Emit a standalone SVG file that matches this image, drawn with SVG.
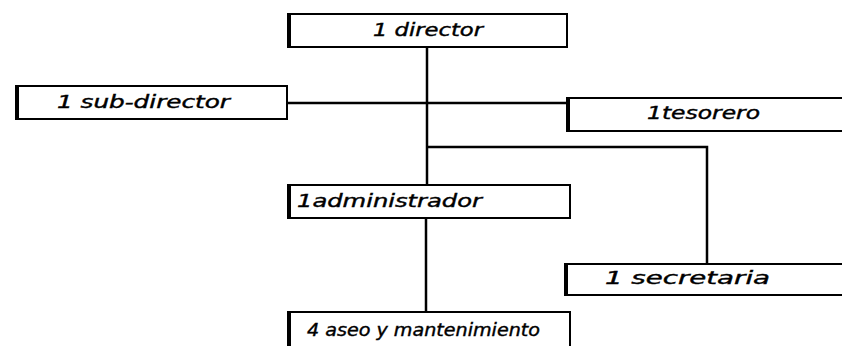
<svg xmlns="http://www.w3.org/2000/svg" width="842" height="346" viewBox="0 0 842 346">
  <style>
    .box { fill: #fff; stroke: #000; stroke-width: 2; }
    .edge { stroke: #000; stroke-width: 4; }
    .lbl { font-family: "DejaVu Sans", "Liberation Sans", sans-serif; font-size: 17px; font-style: italic; fill: #000; stroke: #000; stroke-width: 0.4; }
    .wire { fill: none; stroke: #000; stroke-width: 2.5; }
  </style>
  <rect width="842" height="346" fill="#fff"/>

  <!-- connectors -->
  <g id="connectors">
    <path class="wire" d="M427,47 V185"/>
    <path class="wire" d="M287,103 H567"/>
    <path class="wire" d="M427,147 H707 V264"/>
    <path class="wire" d="M426,218 V312"/>
  </g>

  <g id="director">
    <rect class="box" x="288" y="14" width="279" height="33"/>
    <line class="edge" x1="289" y1="13" x2="289" y2="48"/>
    <text class="lbl" x="373" y="36" textLength="110" lengthAdjust="spacingAndGlyphs">1 director</text>
  </g>

  <g id="subdirector">
    <rect class="box" x="16" y="86" width="271" height="33"/>
    <line class="edge" x1="17" y1="85" x2="17" y2="120"/>
    <text class="lbl" x="57" y="108" textLength="173" lengthAdjust="spacingAndGlyphs">1 sub-director</text>
  </g>

  <g id="tesorero">
    <rect class="box" x="567" y="98" width="280" height="33"/>
    <line class="edge" x1="568" y1="97" x2="568" y2="132"/>
    <text class="lbl" x="647" y="119" textLength="113" lengthAdjust="spacingAndGlyphs">1tesorero</text>
  </g>

  <g id="administrador">
    <rect class="box" x="288" y="185" width="282" height="33"/>
    <line class="edge" x1="289" y1="184" x2="289" y2="219"/>
    <text class="lbl" x="297" y="207" textLength="185" lengthAdjust="spacingAndGlyphs">1administrador</text>
  </g>

  <g id="secretaria">
    <rect class="box" x="565" y="264" width="282" height="31"/>
    <line class="edge" x1="566" y1="263" x2="566" y2="296"/>
    <text class="lbl" x="605" y="284" textLength="165" lengthAdjust="spacingAndGlyphs">1 secretaria</text>
  </g>

  <g id="aseo">
    <rect class="box" x="288" y="312" width="282" height="40"/>
    <line class="edge" x1="289" y1="311" x2="289" y2="350"/>
    <text class="lbl" x="307" y="336" textLength="233" lengthAdjust="spacingAndGlyphs">4 aseo y mantenimiento</text>
  </g>
</svg>
